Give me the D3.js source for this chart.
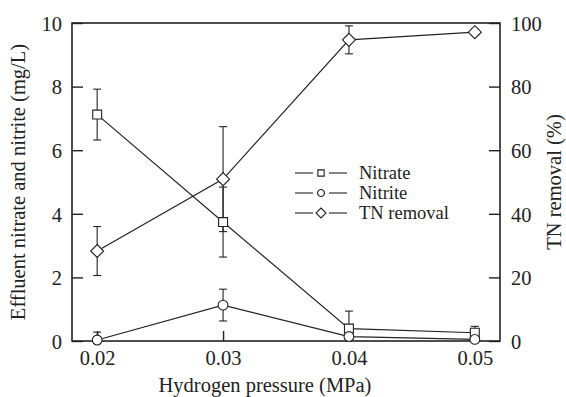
<!DOCTYPE html>
<html>
<head>
<meta charset="utf-8">
<script src="https://cdn.jsdelivr.net/npm/d3@7"></script>
<style>
  body { margin: 0; background: #fff; }
  text { font-family: "Liberation Serif", "Times New Roman", serif; fill: #222; }
</style>
</head>
<body>
<div id="chart"></div>
<script>
// data
const pressure = [0.02, 0.03, 0.04, 0.05];
const nitrate = [7.12, 3.74, 0.39, 0.26];
const nitrateErr = [0.8, 1.1, 0.55, 0.2];
const nitrite = [0.03, 1.13, 0.14, 0.05];
const nitriteErr = [0.25, 0.5, 0.05, 0.2];
const tnRemoval = [28.3, 50.9, 94.7, 97.1];
const tnErr = [7.7, 16.5, 4.4, 1.0];
const xTicks = [0.02, 0.03, 0.04, 0.05];
const leftTicks = [0, 2, 4, 6, 8, 10];
const rightTicks = [0, 20, 40, 60, 80, 100];

const width = 566, height = 397;
const margin = {top: 23, right: 66, bottom: 56, left: 72};
const ink = "#222";
const fs = "20.5px";

const svg = d3.select("#chart")
  .append("svg")
  .attr("width", width)
  .attr("height", height);

let x = d3.scaleLinear()
  .domain([0.018, 0.052])
  .range([margin.left, width - margin.right]);

let yL = d3.scaleLinear()
  .domain([0, 10])
  .range([height - margin.bottom, margin.top]);

let yR = d3.scaleLinear()
  .domain([0, 100])
  .range([height - margin.bottom, margin.top]);

/* Axes */

const gx = svg.append("g")
  .attr("transform", `translate(0,${height - margin.bottom})`)
  .call(d3.axisBottom(x).tickValues(xTicks).tickSize(-10).tickPadding(9)
    .tickFormat(d3.format(".2f")));

const gl = svg.append("g")
  .attr("transform", `translate(${margin.left},0)`)
  .call(d3.axisLeft(yL).tickValues(leftTicks).tickSize(-11).tickPadding(10));

const gr = svg.append("g")
  .attr("transform", `translate(${width - margin.right},0)`)
  .call(d3.axisRight(yR).tickValues(rightTicks).tickSize(-11).tickPadding(11));

[gx, gl, gr].forEach(g => {
  g.select(".domain").remove();
  g.selectAll(".tick line").attr("stroke", ink).attr("stroke-width", 1.4);
  g.selectAll(".tick text").attr("font-size", fs).attr("fill", ink)
    .style("font-family", "'Liberation Serif', serif");
});
gl.selectAll(".tick text").attr("dy", "0.36em");
gr.selectAll(".tick text").attr("dy", "0.36em");

// frame
svg.append("rect")
  .attr("x", margin.left)
  .attr("y", margin.top)
  .attr("width", width - margin.left - margin.right)
  .attr("height", height - margin.top - margin.bottom)
  .attr("fill", "none")
  .attr("stroke", ink)
  .attr("stroke-width", 1.6);

// axis titles
svg.append("text")
  .attr("transform", `translate(25,${(margin.top + height - margin.bottom) / 2}) rotate(-90)`)
  .attr("text-anchor", "middle")
  .attr("font-size", fs)
  .text("Effluent nitrate and nitrite (mg/L)");

svg.append("text")
  .attr("transform", `translate(554,${(margin.top + height - margin.bottom) / 2}) rotate(-90)`)
  .attr("text-anchor", "middle")
  .attr("dy", "0.35em")
  .attr("font-size", fs)
  .text("TN removal (%)");

svg.append("text")
  .attr("x", 265)
  .attr("y", 392)
  .attr("text-anchor", "middle")
  .attr("font-size", fs)
  .text("Hydrogen pressure (MPa)");

/* Series */

const series = [
  {name: "Nitrate", vals: nitrate, err: nitrateErr, y: yL, sym: d3.symbolSquare, size: 80},
  {name: "Nitrite", vals: nitrite, err: nitriteErr, y: yL, sym: d3.symbolCircle, size: 75},
  {name: "TN removal", vals: tnRemoval, err: tnErr, y: yR, sym: "diamond", size: 6.5}
];

function markerPath(s) {
  if (s.sym === "diamond") {
    const r = s.size;
    return `M0,${-r}L${r},0L0,${r}L${-r},0Z`;
  }
  return d3.symbol().type(s.sym).size(s.size)();
}

// error bars
series.forEach(s => {
  const g = svg.append("g").attr("stroke", ink).attr("stroke-width", 1.1);
  pressure.forEach((p, i) => {
    const cx = x(p);
    const hi = s.y(s.vals[i] + s.err[i]);
    const lo = s.y(Math.max(0, s.vals[i] - s.err[i]));
    g.append("line").attr("x1", cx).attr("x2", cx).attr("y1", hi).attr("y2", lo);
    g.append("line").attr("x1", cx - 4).attr("x2", cx + 4).attr("y1", hi).attr("y2", hi);
    if (s.vals[i] - s.err[i] > 0)
      g.append("line").attr("x1", cx - 4).attr("x2", cx + 4).attr("y1", lo).attr("y2", lo);
  });
});

// lines
series.forEach(s => {
  svg.append("path")
    .datum(pressure.map((p, i) => [p, s.vals[i]]))
    .attr("fill", "none")
    .attr("stroke", ink)
    .attr("stroke-width", 1.2)
    .attr("d", d3.line().x(d => x(d[0])).y(d => s.y(d[1])));
});

// markers
series.forEach(s => {
  svg.selectAll(null)
    .data(pressure.map((p, i) => [p, s.vals[i]]))
    .enter()
    .append("path")
      .attr("transform", d => `translate(${x(d[0])},${s.y(d[1])})`)
      .attr("d", markerPath(s))
      .attr("fill", "#fff")
      .attr("stroke", ink)
      .attr("stroke-width", 1.1);
});

/* Legend */

const legend = svg.append("g").attr("transform", "translate(295,173)");
series.forEach((s, i) => {
  const row = legend.append("g").attr("transform", `translate(0,${i * 20})`);
  row.append("line").attr("x1", 0).attr("x2", 18).attr("y1", 0).attr("y2", 0)
    .attr("stroke", ink).attr("stroke-width", 1.1);
  row.append("line").attr("x1", 34).attr("x2", 52).attr("y1", 0).attr("y2", 0)
    .attr("stroke", ink).attr("stroke-width", 1.1);
  const ls = Object.assign({}, s);
  if (s.sym === "diamond") ls.size = 5; else ls.size = s.size * 0.5;
  row.append("path")
    .attr("transform", "translate(26,0)")
    .attr("d", markerPath(ls))
    .attr("fill", "#fff")
    .attr("stroke", ink)
    .attr("stroke-width", 1.1);
  row.append("text")
    .attr("x", 64)
    .attr("dy", "0.35em")
    .attr("font-size", "18.5px")
    .text(s.name);
});
</script>
</body>
</html>
